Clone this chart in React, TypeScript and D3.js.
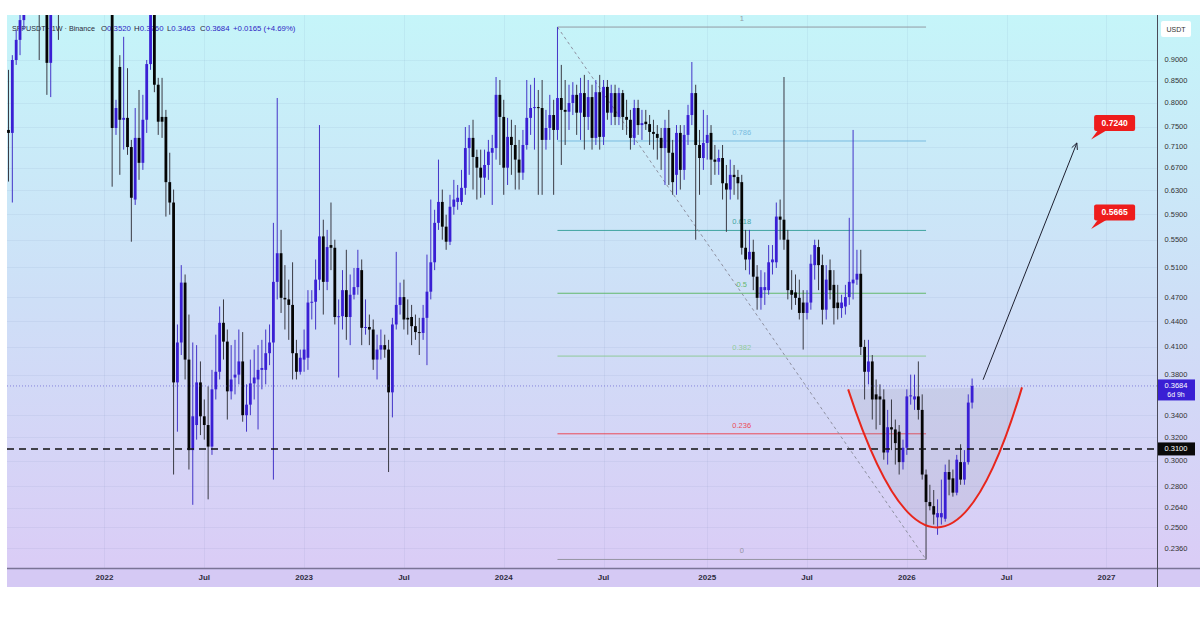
import React from "react";
import * as d3 from "d3";

const W = 1200;
const H = 626;
const parse = d3.timeParse("%Y-%m-%d");
const START_WEEK = parse("2021-07-12") as Date;

// Weekly OHLC (SFP/USDT)
const opens = [
0.743,0.737,0.900,0.951,1.004,1.12,1.25,1.2,1.1,1.05,
1.08,0.893,1.1,1.3,1.2,1.35,1.5,1.42,1.55,1.48,
1.38,1.45,1.32,1.25,1.3,1.2,1.15,1.1,0.747,0.883,
0.764,0.768,0.709,0.614,0.727,0.679,0.764,0.890,1.04,0.841,
0.770,0.770,0.644,0.609,0.372,0.415,0.489,0.396,0.309,0.331,
0.372,0.339,0.331,0.312,0.365,0.383,0.438,0.416,0.363,0.377,
0.380,0.394,0.340,0.350,0.371,0.375,0.385,0.385,0.403,0.415,
0.490,0.530,0.469,0.467,0.460,0.403,0.383,0.396,0.398,0.463,
0.464,0.493,0.555,0.490,0.542,0.538,0.445,0.446,0.479,0.445,
0.473,0.483,0.506,0.432,0.433,0.430,0.396,0.407,0.412,0.407,
0.362,0.436,0.460,0.470,0.444,0.445,0.434,0.427,0.426,0.444,
0.477,0.517,0.576,0.610,0.570,0.547,0.602,0.610,0.610,0.634,
0.707,0.727,0.690,0.670,0.652,0.675,0.698,0.707,0.818,0.770,
0.670,0.729,0.713,0.685,0.661,0.713,0.768,0.789,0.791,0.789,
0.723,0.747,0.774,0.743,0.811,0.785,0.781,0.800,0.818,0.779,
0.822,0.770,0.813,0.727,0.824,0.729,0.836,0.779,0.822,0.770,
0.822,0.770,0.764,0.727,0.789,0.753,0.760,0.755,0.739,0.735,
0.727,0.707,0.747,0.698,0.657,0.737,0.666,0.733,0.774,0.822,
0.713,0.688,0.717,0.737,0.685,0.681,0.688,0.642,0.631,0.657,
0.653,0.644,0.538,0.521,0.532,0.497,0.469,0.479,0.479,0.517,
0.517,0.586,0.581,0.550,0.479,0.476,0.469,0.463,0.450,0.463,
0.513,0.539,0.513,0.454,0.506,0.486,0.463,0.456,0.458,0.470,
0.488,0.493,0.501,0.410,0.383,0.394,0.360,0.358,0.355,0.307,
0.329,0.327,0.325,0.299,0.311,0.358,0.355,0.358,0.345,0.289,
0.268,0.265,0.257,0.257,0.256,0.291,0.286,0.275,0.299,0.285,
0.299,0.352];

const closes = [
0.737,0.900,0.951,1.004,1.12,1.25,1.2,1.1,1.05,1.08,
0.893,1.1,1.3,1.2,1.35,1.5,1.42,1.55,1.48,1.38,
1.45,1.32,1.25,1.3,1.2,1.15,1.1,0.747,0.789,0.764,
0.768,0.709,0.617,0.727,0.679,0.764,0.890,1.04,0.841,0.760,
0.760,0.644,0.609,0.372,0.415,0.489,0.396,0.309,0.339,0.372,
0.339,0.331,0.312,0.365,0.383,0.438,0.416,0.363,0.375,0.380,
0.394,0.340,0.350,0.371,0.377,0.385,0.387,0.403,0.415,0.490,
0.530,0.469,0.467,0.460,0.403,0.383,0.398,0.407,0.463,0.464,
0.493,0.555,0.490,0.539,0.538,0.445,0.446,0.479,0.445,0.473,
0.483,0.509,0.432,0.433,0.430,0.396,0.407,0.412,0.407,0.362,
0.436,0.460,0.470,0.442,0.442,0.434,0.427,0.426,0.444,0.477,
0.517,0.576,0.610,0.570,0.547,0.602,0.614,0.617,0.634,0.707,
0.727,0.690,0.670,0.652,0.675,0.700,0.707,0.818,0.770,0.670,
0.729,0.713,0.685,0.661,0.713,0.768,0.789,0.791,0.789,0.723,
0.747,0.774,0.743,0.811,0.785,0.781,0.800,0.818,0.779,0.822,
0.770,0.813,0.727,0.824,0.729,0.836,0.779,0.822,0.770,0.822,
0.770,0.764,0.727,0.789,0.753,0.757,0.755,0.739,0.735,0.727,
0.707,0.747,0.698,0.644,0.737,0.666,0.733,0.774,0.822,0.713,
0.688,0.717,0.733,0.685,0.681,0.688,0.642,0.631,0.657,0.653,
0.642,0.538,0.521,0.532,0.497,0.469,0.483,0.483,0.517,0.521,
0.586,0.581,0.550,0.479,0.473,0.469,0.450,0.450,0.463,0.515,
0.542,0.513,0.454,0.493,0.479,0.456,0.456,0.463,0.470,0.490,
0.493,0.501,0.410,0.383,0.394,0.355,0.355,0.355,0.307,0.329,
0.327,0.315,0.299,0.311,0.358,0.359,0.358,0.345,0.289,0.268,
0.265,0.259,0.260,0.260,0.291,0.285,0.275,0.301,0.285,0.299,
0.352,0.3684];

const highs = [
0.876,0.912,0.977,1.032,1.2,1.3,1.4,1.3,1.2,1.15,
1.12,1.15,1.4,1.45,1.45,1.6,1.62,1.7,1.65,1.55,
1.5,1.5,1.4,1.36,1.34,1.28,1.2,1.15,0.807,0.912,
0.959,0.880,0.723,0.789,0.829,0.818,0.900,1.1,1.1,0.857,
0.857,0.785,0.698,0.631,0.436,0.513,0.500,0.448,0.415,0.412,
0.394,0.355,0.368,0.385,0.424,0.458,0.467,0.430,0.412,0.418,
0.430,0.427,0.370,0.396,0.407,0.412,0.418,0.430,0.436,0.576,
0.811,0.565,0.513,0.493,0.517,0.418,0.407,0.430,0.479,0.479,
0.521,0.753,0.581,0.565,0.609,0.550,0.467,0.506,0.535,0.500,
0.509,0.535,0.521,0.467,0.448,0.442,0.424,0.430,0.424,0.418,
0.444,0.532,0.489,0.493,0.467,0.460,0.448,0.444,0.460,0.528,
0.614,0.597,0.685,0.631,0.589,0.622,0.648,0.639,0.666,0.749,
0.753,0.764,0.704,0.704,0.704,0.723,0.733,0.859,0.852,0.807,
0.768,0.764,0.753,0.723,0.743,0.852,0.841,0.857,0.829,0.852,
0.785,0.818,0.807,0.985,0.888,0.852,0.841,0.847,0.841,0.857,
0.864,0.852,0.841,0.852,0.864,0.852,0.852,0.841,0.841,0.834,
0.829,0.807,0.785,0.807,0.807,0.785,0.785,0.774,0.764,0.753,
0.747,0.764,0.785,0.723,0.753,0.753,0.753,0.796,0.895,0.841,
0.743,0.785,0.774,0.753,0.713,0.704,0.713,0.675,0.685,0.675,
0.666,0.657,0.565,0.565,0.550,0.513,0.506,0.503,0.542,0.542,
0.609,0.614,0.859,0.565,0.506,0.500,0.493,0.479,0.479,0.528,
0.550,0.550,0.528,0.513,0.521,0.506,0.486,0.473,0.486,0.584,
0.743,0.535,0.535,0.418,0.418,0.401,0.375,0.370,0.365,0.345,
0.355,0.336,0.331,0.318,0.365,0.380,0.380,0.394,0.360,0.293,
0.281,0.277,0.270,0.285,0.297,0.301,0.293,0.305,0.314,0.309,
0.360,0.376];

const lows = [
0.645,0.609,0.888,0.912,0.977,1.08,1.1,1.04,0.900,1.03,
0.818,0.813,1.05,0.951,1.15,1.3,1.35,1.38,1.4,1.3,
1.3,1.25,1.2,1.18,1.12,1.08,1.05,0.636,0.733,0.657,
0.704,0.694,0.547,0.605,0.648,0.666,0.737,0.876,0.824,0.733,
0.727,0.586,0.589,0.289,0.325,0.401,0.375,0.293,0.266,0.318,
0.322,0.318,0.270,0.305,0.355,0.375,0.396,0.336,0.355,0.360,
0.370,0.334,0.325,0.340,0.355,0.327,0.365,0.370,0.390,0.285,
0.467,0.450,0.430,0.418,0.375,0.375,0.380,0.383,0.385,0.442,
0.430,0.479,0.448,0.479,0.506,0.436,0.377,0.430,0.418,0.412,
0.467,0.473,0.412,0.424,0.412,0.385,0.375,0.396,0.398,0.291,
0.338,0.430,0.448,0.430,0.424,0.412,0.418,0.401,0.418,0.390,
0.467,0.506,0.565,0.550,0.535,0.542,0.589,0.597,0.605,0.622,
0.657,0.631,0.614,0.617,0.622,0.648,0.605,0.685,0.675,0.622,
0.639,0.657,0.631,0.631,0.648,0.704,0.733,0.704,0.622,0.622,
0.704,0.723,0.622,0.723,0.675,0.713,0.743,0.774,0.733,0.723,
0.704,0.743,0.704,0.713,0.704,0.713,0.764,0.753,0.753,0.753,
0.743,0.733,0.704,0.713,0.733,0.723,0.743,0.713,0.704,0.685,
0.666,0.639,0.639,0.622,0.622,0.631,0.648,0.713,0.753,0.550,
0.622,0.666,0.685,0.639,0.657,0.657,0.614,0.562,0.614,0.622,
0.614,0.528,0.506,0.500,0.479,0.454,0.454,0.460,0.473,0.500,
0.509,0.550,0.535,0.467,0.454,0.460,0.442,0.407,0.442,0.454,
0.493,0.479,0.436,0.442,0.467,0.436,0.442,0.444,0.448,0.460,
0.467,0.486,0.401,0.355,0.370,0.336,0.327,0.331,0.301,0.297,
0.309,0.297,0.289,0.293,0.305,0.350,0.345,0.336,0.285,0.229,
0.262,0.252,0.245,0.252,0.254,0.273,0.272,0.273,0.281,0.281,
0.297,0.3463];

const priceTicks = [0.9, 0.85, 0.8, 0.75, 0.71, 0.67, 0.63, 0.59, 0.55, 0.51, 0.47, 0.44, 0.41, 0.38, 0.34, 0.32, 0.3, 0.28, 0.264, 0.25, 0.236];
const timeTickDates = ["2022-01-03", "2022-07-04", "2023-01-02", "2023-07-03", "2024-01-01", "2024-07-01", "2025-01-06", "2025-07-07", "2026-01-05", "2026-07-06", "2027-01-04"];
const timeTickLabels = ["2022", "Jul", "2023", "Jul", "2024", "Jul", "2025", "Jul", "2026", "Jul", "2027"];

const fibLevels = [0, 0.236, 0.382, 0.5, 0.618, 0.786, 1];
const fibLabels = ["0", "0.236", "0.382", "0.5", "0.618", "0.786", "1"];
const fibColors = ["#8a8c96", "#f0323c", "#86c98a", "#52b356", "#2a9a92", "#6cb4dc", "#8a8c96"];
const fibHighIndex = 143;
const fibLowIndex = 239;

const supportLevel = 0.31;
const lastPrice = 0.3684;
const countdown = "6d 9h";

const cupDates = ["2025-09-20", "2026-03-01", "2026-08-03"];
const cupPrices = [0.365, 0.25, 0.367];

const arrowDates = ["2026-05-24", "2026-11-11"];
const arrowPrices = [0.3747, 0.717];

const targetDates = ["2026-12-07", "2026-12-07"];
const targetPrices = [0.724, 0.5665];

const header = {
  symbol: "SFPUSDT · 1W · Binance",
  o: "0.3520",
  h: "0.3760",
  l: "0.3463",
  c: "0.3684",
  chg: "+0.0165 (+4.69%)",
};

const FONT = "'Liberation Sans', Arial, sans-serif";
const UP = "#3a1fd4";
const DOWN = "#050505";

export default function App() {
  const PL = 7, PT = 15, PR = 1157, PB = 568, AXB = 587;
  const lastDate = d3.timeDay.offset(START_WEEK, 7 * (closes.length - 1));
  const x = d3.scaleTime().domain([START_WEEK, lastDate]).range([8.5, 972.1]);
  const y = d3.scaleLog().domain([0.2237, 1.0181]).range([PB, PT]);

  const candles = closes.map((c, i) => {
    const o = opens[i];
    return {
      date: d3.timeDay.offset(START_WEEK, 7 * i),
      o,
      c,
      h: Math.max(highs[i], o, c),
      l: Math.min(lows[i], o, c),
    };
  });
  const bw = 2.8;

  // fib
  const fx1 = x(candles[fibHighIndex].date);
  const fx2 = x(candles[fibLowIndex].date);
  const fHi = candles[fibHighIndex].h;
  const fLo = candles[fibLowIndex].l;
  const fibPrice = (lv: number) => Math.exp(Math.log(fLo) + lv * (Math.log(fHi) - Math.log(fLo)));
  const fmid = (fx1 + fx2) / 2;

  // cup
  const cp = cupDates.map((d, i) => [x(parse(d) as Date), y(cupPrices[i])]);
  const ctrl = [2 * cp[1][0] - 0.5 * (cp[0][0] + cp[2][0]), 2 * cp[1][1] - 0.5 * (cp[0][1] + cp[2][1])];
  const cupPath = d3.path();
  cupPath.moveTo(cp[0][0], cp[0][1]);
  cupPath.quadraticCurveTo(ctrl[0], ctrl[1], cp[2][0], cp[2][1]);
  const cupFill = d3.path();
  cupFill.moveTo(cp[0][0], cp[0][1]);
  cupFill.quadraticCurveTo(ctrl[0], ctrl[1], cp[2][0], cp[2][1]);
  cupFill.closePath();

  // arrow
  const ax1 = x(parse(arrowDates[0]) as Date), ay1 = y(arrowPrices[0]);
  const ax2 = x(parse(arrowDates[1]) as Date), ay2 = y(arrowPrices[1]);
  const ang = Math.atan2(ay2 - ay1, ax2 - ax1);
  const hl = 7;
  const head = [ang + Math.PI - 0.45, ang + Math.PI + 0.45].map((a) => [ax2 + hl * Math.cos(a), ay2 + hl * Math.sin(a)]);

  const yLast = y(lastPrice);
  const ySup = y(supportLevel);

  return (
    <svg width={W} height={H} style={{ position: "fixed", left: 0, top: 0, background: "#fff" }} fontFamily={FONT}>
      <defs>
        <linearGradient id="bg" x1="0" y1="0" x2="0" y2="1">
          <stop offset="0" stopColor="#c5f5f9" />
          <stop offset="0.5" stopColor="#cedff7" />
          <stop offset="1" stopColor="#dbcbf6" />
        </linearGradient>
        <clipPath id="plot">
          <rect x={PL} y={PT} width={PR - PL} height={PB - PT} />
        </clipPath>
      </defs>
      <rect x={0} y={0} width={W} height={H} fill="#ffffff" />
      <rect x={PL} y={PT} width={W - PL} height={AXB - PT} fill="url(#bg)" />

      {/* grid */}
      <g stroke="rgba(90,110,160,0.08)" strokeWidth={1}>
        {priceTicks.map((p) => (
          <line key={"gh" + p} x1={PL} x2={PR} y1={Math.round(y(p)) + 0.5} y2={Math.round(y(p)) + 0.5} />
        ))}
        {timeTickDates.map((d) => {
          const xx = Math.round(x(parse(d) as Date)) + 0.5;
          return <line key={"gv" + d} x1={xx} x2={xx} y1={PT} y2={PB} />;
        })}
      </g>

      {/* header */}
      <text x={12} y={31} fontSize={7.2} fill="#2a2a3a">{header.symbol}</text>
      <text x={101} y={31} fontSize={7.8} fill="#2a2a3a">
        <tspan>O</tspan>
        <tspan fill="#2e26c4">{header.o}</tspan>
        <tspan x={134}>H</tspan>
        <tspan fill="#2e26c4">{header.h}</tspan>
        <tspan x={167}>L</tspan>
        <tspan fill="#2e26c4">{header.l}</tspan>
        <tspan x={200}>C</tspan>
        <tspan fill="#2e26c4">{header.c}</tspan>
        <tspan x={233} fill="#2e26c4">{header.chg}</tspan>
      </text>

      <g clipPath="url(#plot)">
        {/* fib retracement */}
        {fibLevels.map((lv, i) => {
          const yy = y(fibPrice(lv));
          return (
            <g key={"fib" + lv}>
              <line x1={fx1} x2={fx2} y1={yy} y2={yy} stroke={fibColors[i]} strokeWidth={1} opacity={0.85} />
              <text x={fmid} y={yy - 6} fontSize={7.5} textAnchor="middle" fill={fibColors[i]} opacity={0.85}>
                {fibLabels[i]}
              </text>
            </g>
          );
        })}
        <line x1={fx1} y1={y(fHi)} x2={fx2} y2={y(fLo)} stroke="#8e90a0" strokeWidth={1} strokeDasharray="3,3" />

        {/* cup fill */}
        <path d={cupFill.toString()} fill="rgba(140,140,160,0.16)" />

        {/* candles */}
        {candles.map((d, i) => {
          const cx = x(d.date);
          const up = d.c >= d.o;
          const col = up ? UP : DOWN;
          const yt = y(Math.max(d.o, d.c));
          const yb = y(Math.min(d.o, d.c));
          return (
            <g key={"c" + i}>
              <line x1={cx} x2={cx} y1={y(d.h)} y2={y(d.l)} stroke={up ? "#4434c8" : "#3a3a44"} strokeWidth={1} />
              <rect x={cx - bw / 2} y={yt} width={bw} height={Math.max(1, yb - yt)} fill={col} />
            </g>
          );
        })}

        {/* current price line */}
        <line x1={PL} x2={PR} y1={yLast} y2={yLast} stroke="#4b40c8" strokeWidth={0.8} strokeDasharray="1,2" opacity={0.7} />
        {/* support dashed */}
        <line x1={PL} x2={PR} y1={ySup} y2={ySup} stroke="#111" strokeWidth={1.6} strokeDasharray="7,5" />

        {/* cup curve */}
        <path d={cupPath.toString()} fill="none" stroke="#e8261c" strokeWidth={2} />

        {/* arrow */}
        <line x1={ax1} y1={ay1} x2={ax2} y2={ay2} stroke="#1e2030" strokeWidth={1} />
        <polyline points={`${head[0][0]},${head[0][1]} ${ax2},${ay2} ${head[1][0]},${head[1][1]}`} fill="none" stroke="#1e2030" strokeWidth={1} />

        {/* target callouts */}
        {targetPrices.map((p, i) => {
          const tx = x(parse(targetDates[i]) as Date);
          const ty = y(p);
          const bx = tx + 3, by = ty - 24.5;
          return (
            <g key={"tg" + i}>
              <polygon points={`${bx + 4},${by + 15} ${bx + 13},${by + 15} ${tx},${ty}`} fill="#ee1c1c" />
              <rect x={bx} y={by} width={41} height={16} rx={2} fill="#ee1c1c" />
              <text x={bx + 20.5} y={by + 11} fontSize={8.5} fontWeight="bold" fill="#fff" textAnchor="middle">
                {p.toFixed(4)}
              </text>
            </g>
          );
        })}
      </g>

      {/* bottom axis band */}
      <rect x={PL} y={PB} width={W - PL} height={AXB - PB} fill="#d5c9f4" />
      <line x1={PL} x2={W} y1={PB + 0.5} y2={PB + 0.5} stroke="#7a7396" strokeWidth={1.5} />
      <line x1={PR + 0.5} x2={PR + 0.5} y1={PT} y2={AXB} stroke="#4a4a58" strokeWidth={1} />

      {timeTickDates.map((d, i) => (
        <text key={"tl" + d} x={x(parse(d) as Date)} y={580} fontSize={8} fontWeight="bold" fill="#2e2c40" textAnchor="middle">
          {timeTickLabels[i]}
        </text>
      ))}

      {/* right axis */}
      <rect x={1161} y={21} width={30} height={16} rx={2} fill="#ffffff" />
      <text x={1176} y={32} fontSize={7} fill="#333" textAnchor="middle">USDT</text>
      {priceTicks.map((p) => (
        <text key={"pl" + p} x={1176} y={y(p) + 2.5} fontSize={7.5} fill="#333" textAnchor="middle">
          {p.toFixed(4)}
        </text>
      ))}
      <rect x={1158} y={yLast - 6.5} width={37} height={21} fill="#3a1fd4" />
      <text x={1176} y={yLast + 2.5} fontSize={7.5} fill="#fff" textAnchor="middle">{lastPrice.toFixed(4)}</text>
      <text x={1176} y={yLast + 11.5} fontSize={7} fill="#fff" textAnchor="middle">{countdown}</text>
      <rect x={1158} y={ySup - 6.5} width={37} height={13} fill="#0a0a0a" />
      <text x={1176} y={ySup + 2.5} fontSize={7.5} fill="#fff" textAnchor="middle">{supportLevel.toFixed(4)}</text>
    </svg>
  );
}
